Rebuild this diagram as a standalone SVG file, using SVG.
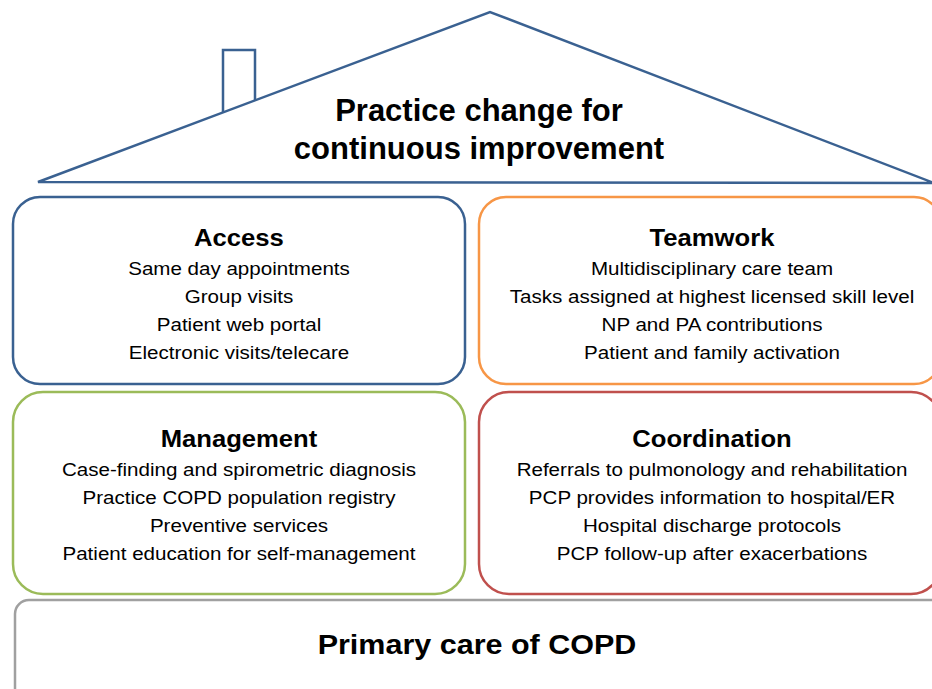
<svg xmlns="http://www.w3.org/2000/svg" width="932" height="689" viewBox="0 0 932 689">
<style>
  .roof { fill: none; stroke: #3a6191; stroke-width: 2.5; stroke-linejoin: miter; }
  .box { fill: #ffffff; stroke-width: 2.5; }
  .t { font-family: "Liberation Sans", Arial, sans-serif; fill: #000; text-anchor: middle; }
  .h { font-size: 23.3px; font-weight: bold; }
  .i { font-size: 18.7px; }
  .title { font-size: 31px; font-weight: bold; }
  .base { font-size: 27px; font-weight: bold; }
</style>
<rect width="932" height="689" fill="#ffffff"/>
<g id="house">
  <path class="roof" d="M223,112.4 V50 H255 V100.4"/>
  <path class="roof" d="M38,182 L490,12 L934,183 Z"/>
  <text class="t title" x="479" y="121">Practice change for</text>
  <text class="t title" x="479" y="159">continuous improvement</text>
</g>
<g id="access">
  <rect class="box" x="13" y="197" width="452" height="187" rx="27" stroke="#3a6191"/>
  <g transform="translate(239,0) scale(1.1,1)">
    <text class="t h" x="0" y="246">Access</text>
    <text class="t i" x="0" y="275">Same day appointments</text>
    <text class="t i" x="0" y="303">Group visits</text>
    <text class="t i" x="0" y="331">Patient web portal</text>
    <text class="t i" x="0" y="359">Electronic visits/telecare</text>
  </g>
</g>
<g id="teamwork">
  <rect class="box" x="479" y="197" width="462" height="187" rx="27" stroke="#f79646"/>
  <g transform="translate(712,0) scale(1.1,1)">
    <text class="t h" x="0" y="246">Teamwork</text>
    <text class="t i" x="0" y="275">Multidisciplinary care team</text>
    <text class="t i" x="0" y="303">Tasks assigned at highest licensed skill level</text>
    <text class="t i" x="0" y="331">NP and PA contributions</text>
    <text class="t i" x="0" y="359">Patient and family activation</text>
  </g>
</g>
<g id="management">
  <rect class="box" x="13" y="392" width="452" height="202" rx="30" stroke="#9bbb59"/>
  <g transform="translate(239,0) scale(1.1,1)">
    <text class="t h" x="0" y="447">Management</text>
    <text class="t i" x="0" y="476">Case-finding and spirometric diagnosis</text>
    <text class="t i" x="0" y="504">Practice COPD population registry</text>
    <text class="t i" x="0" y="532">Preventive services</text>
    <text class="t i" x="0" y="560">Patient education for self-management</text>
  </g>
</g>
<g id="coordination">
  <rect class="box" x="479" y="392" width="462" height="202" rx="30" stroke="#c0504d"/>
  <g transform="translate(712,0) scale(1.1,1)">
    <text class="t h" x="0" y="447">Coordination</text>
    <text class="t i" x="0" y="476">Referrals to pulmonology and rehabilitation</text>
    <text class="t i" x="0" y="504">PCP provides information to hospital/ER</text>
    <text class="t i" x="0" y="532">Hospital discharge protocols</text>
    <text class="t i" x="0" y="560">PCP follow-up after exacerbations</text>
  </g>
</g>
<g id="primary-care">
  <rect class="box" x="15" y="600" width="932" height="105" rx="14" stroke="#a0a0a0"/>
  <g transform="translate(477,0) scale(1.13,1)">
    <text class="t base" x="0" y="654">Primary care of COPD</text>
  </g>
</g>
<g id="connectors"></g>
</svg>
